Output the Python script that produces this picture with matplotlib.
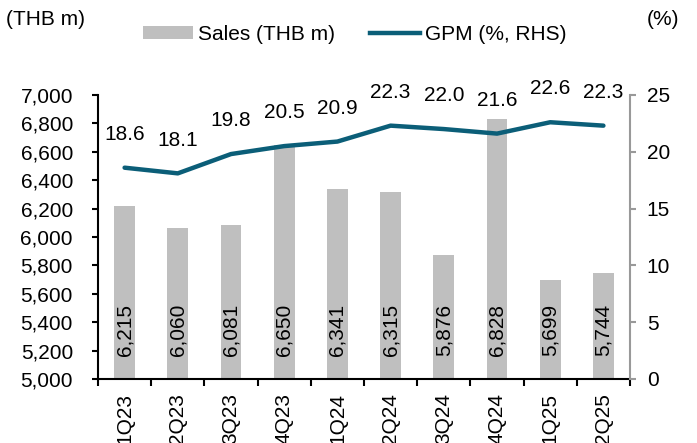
import matplotlib
matplotlib.use("Agg")
import matplotlib.pyplot as plt
import numpy as np
from matplotlib.patches import Patch
from matplotlib.lines import Line2D

plt.rcParams['font.family'] = ['Liberation Sans', 'DejaVu Sans']

categories = ['1Q23', '2Q23', '3Q23', '4Q23', '1Q24', '2Q24', '3Q24', '4Q24', '1Q25', '2Q25']
sales = [6215, 6060, 6081, 6650, 6341, 6315, 5876, 6828, 5699, 5744]
gpm = [18.6, 18.1, 19.8, 20.5, 20.9, 22.3, 22.0, 21.6, 22.6, 22.3]

BAR_C = '#BFBFBF'
LINE_C = '#0B5E78'
FS = 15

fig = plt.figure(figsize=(6.97, 4.43), dpi=100)
ax = fig.add_axes([0.1406, 0.1445, 0.9039 - 0.1406, 0.7856 - 0.1445])
ax2 = ax.twinx()

x = np.arange(len(categories))
ax.bar(x, sales, width=0.39, color=BAR_C, zorder=1)
ax.set_ylim(5000, 7000)
ax.set_xlim(-0.5, len(categories) - 0.5)
ax.set_yticks(np.arange(5000, 7001, 200))
ax.set_yticklabels([f'{v:,}' for v in range(5000, 7001, 200)], fontsize=FS)
for xi, v in zip(x, sales):
    ax.text(xi, 5345, f'{v:,}', rotation=90, ha='center', va='center', fontsize=FS, color='black')

# x ticks: boundaries as major ticks, labels at centers
ax.set_xticks(np.arange(-0.5, len(categories), 1.0))
ax.set_xticklabels([])
ax.set_xticks(x, minor=True)
ax.set_xticklabels(categories, minor=True, rotation=90, fontsize=FS, va='top')
ax.tick_params(axis='x', which='major', direction='out', length=5, width=1.5, color='black')
ax.tick_params(axis='x', which='minor', length=0, pad=10)
ax.tick_params(axis='y', direction='out', length=4, width=1.5, pad=14, color='black')

for s in ['top', 'right']:
    ax.spines[s].set_visible(False)
ax.spines['left'].set_linewidth(1.5)
ax.spines['bottom'].set_linewidth(1.5)
ax.spines['bottom'].set_zorder(5)

ax2.plot(x, gpm, color=LINE_C, linewidth=3.2, solid_capstyle='round', zorder=3)
ax2.set_ylim(0, 25)
ax2.set_yticks(np.arange(0, 26, 5))
ax2.set_yticklabels([str(v) for v in range(0, 26, 5)], fontsize=FS)
ax2.tick_params(axis='y', direction='out', length=4, width=1.5, pad=8, color='#999999')
for s in ['top', 'left', 'bottom']:
    ax2.spines[s].set_visible(False)
ax2.spines['right'].set_color('#999999')
ax2.spines['right'].set_linewidth(1.5)
for xi, v in zip(x, gpm):
    ax2.annotate(f'{v:.1f}', (xi, v), xytext=(0, 24), textcoords='offset points',
                 ha='center', va='center', fontsize=FS)

fig.text(0.008, 0.955, '(THB m)', fontsize=FS, ha='left', va='center')
fig.text(0.975, 0.955, '(%)', fontsize=FS, ha='right', va='center')

handles = [Patch(facecolor=BAR_C, edgecolor='none'),
           Line2D([0], [0], color=LINE_C, linewidth=3.2)]
fig.legend(handles, ['Sales (THB m)', 'GPM (%, RHS)'], loc='center',
           bbox_to_anchor=(0.509, 0.922), ncol=2, frameon=False, fontsize=FS,
           handlelength=2.4, handletextpad=0.25, columnspacing=1.7, handleheight=0.6)

fig.savefig('out.png', dpi=100)
